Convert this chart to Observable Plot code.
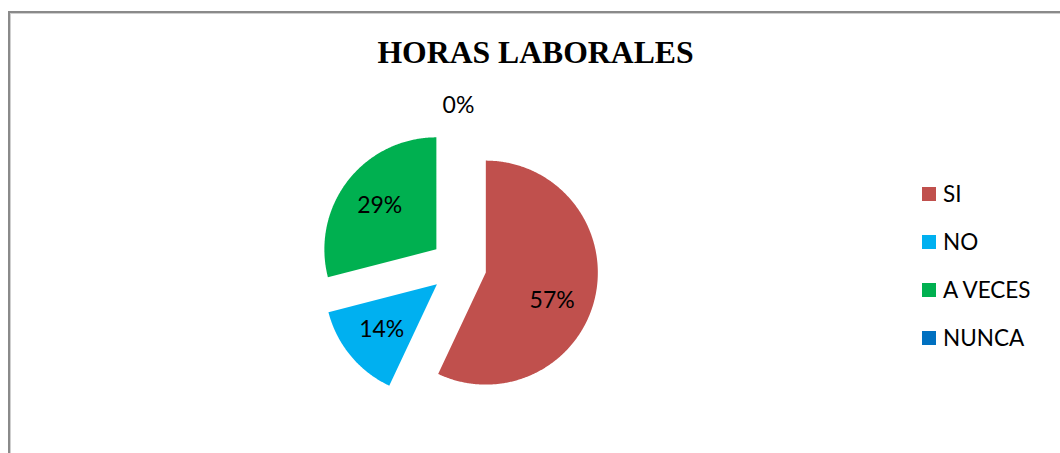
<!DOCTYPE html>
<html>
<head>
<meta charset="utf-8">
<script src="https://cdn.jsdelivr.net/npm/d3@7"></script>
<script src="https://cdn.jsdelivr.net/npm/@observablehq/plot@0.6"></script>
<style>
  html, body { margin: 0; padding: 0; background: #fff; overflow: hidden; }
  #wrap { position: relative; width: 1060px; height: 453px; }
  #frame { position: absolute; left: 8px; top: 11px; width: 1100px; height: 500px;
           border: 2px solid #8a8a8a; box-shadow: inset 1px 1px 0 0 #cfcfcf; box-sizing: border-box; }
  #title { position: absolute; left: 0; width: 1071px; top: 37px; text-align: center;
           font-family: "Liberation Serif", "Times New Roman", serif; font-weight: bold;
           font-size: 31.7px; line-height: 1; color: #000; }
  #chart { position: absolute; left: 0; top: 0; }
  .leg { position: absolute; left: 922px; display: flex; align-items: center; height: 15px; }
  .leg .sw { width: 14px; height: 14px; margin-right: 7px; }
  .leg .lb { font-family: Lato, "Noto Sans", sans-serif; font-size: 22.5px; line-height: 15px; color: #000; white-space: nowrap; }
</style>
</head>
<body>
<div id="wrap">
  <div id="frame"></div>
  <div id="chart"></div>
  <div id="title"></div>
  <div id="legend"></div>
</div>
<script>
// ---- Data ----
const titulo = "HORAS LABORALES";
const categorias = ["SI", "NO", "A VECES", "NUNCA"];
const valores = [57, 14, 29, 0];           // percentages
const colores = ["#C0504D", "#00B0F0", "#00B050", "#0070C0"];

// ---- Slice geometry in data units (radius = 1) ----
const explode = 0.25;
const total = d3.sum(valores);
const slicePts = [];
const labels = [];
let acc = 0;
categorias.forEach((cat, i) => {
  const v = valores[i];
  const a0 = acc / total * 2 * Math.PI;
  acc += v;
  const a1 = acc / total * 2 * Math.PI;
  const mid = (a0 + a1) / 2;
  const ox = explode * Math.sin(mid), oy = explode * Math.cos(mid);
  if (v > 0) {
    slicePts.push({cat, x: ox, y: oy});
    const n = Math.max(2, Math.ceil((a1 - a0) / (Math.PI / 360)));
    for (let k = 0; k <= n; k++) {
      const a = a0 + (a1 - a0) * k / n;
      slicePts.push({cat, x: ox + Math.sin(a), y: oy + Math.cos(a)});
    }
    // label inside the slice; larger slices sit a little further round the arc
    const la = mid + (a1 - a0 > Math.PI ? 0.13 : 0);
    labels.push({cat, text: Math.round(v) + "%", x: 0.89 * Math.sin(la), y: 0.89 * Math.cos(la)});
  } else {
    labels.push({cat, text: Math.round(v) + "%", x: 1.44 * Math.sin(mid), y: 1.44 * Math.cos(mid)});
  }
});

const cx = 458, cy = 266, R = 112;
const chart = Plot.plot({
  width: 1060,
  height: 453,
  margin: 0,
  x: {domain: [-1, 1], range: [cx - R, cx + R], axis: null},
  y: {domain: [-1, 1], range: [cy + R, cy - R], axis: null},
  color: {domain: categorias, range: colores},
  style: {background: "transparent", overflow: "visible"},
  marks: [
    Plot.line(slicePts, {x: "x", y: "y", z: "cat", fill: "cat", stroke: "none", curve: "linear-closed"}),
    Plot.text(labels, {x: "x", y: "y", text: "text", fontSize: 23, fontFamily: "Lato, 'Noto Sans', sans-serif",
                       fill: "#000", textAnchor: "middle", lineAnchor: "middle"})
  ]
});
document.getElementById("chart").appendChild(chart);
document.getElementById("title").textContent = titulo;

// ---- Legend ----
const leg = document.getElementById("legend");
categorias.forEach((cat, i) => {
  const row = document.createElement("div");
  row.className = "leg";
  row.style.top = (186 + i * 48) + "px";
  const sw = document.createElement("span");
  sw.className = "sw";
  sw.style.background = colores[i];
  const lb = document.createElement("span");
  lb.className = "lb";
  lb.textContent = cat;
  row.appendChild(sw); row.appendChild(lb);
  leg.appendChild(row);
});
</script>
</body>
</html>
